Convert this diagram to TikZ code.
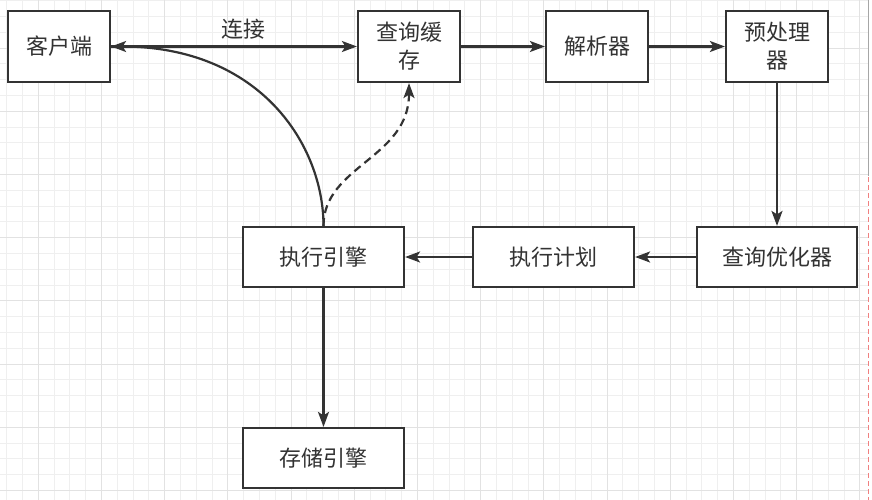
\documentclass[tikz,border=0pt]{standalone}
\usepackage{fontspec}
\newfontfamily\cjk{Noto Sans CJK SC}
\usetikzlibrary{arrows.meta}
\definecolor{ink}{HTML}{333333}
\definecolor{gridminor}{HTML}{EFEFEF}
\definecolor{gridmajor}{HTML}{E2E2E2}
\definecolor{pageedge}{HTML}{F08080}
\begin{document}
\begin{tikzpicture}[x=1pt,y=-1pt,
  box/.style={draw=ink, line width=2.2pt, fill=white, inner sep=0pt,
    font=\cjk\fontsize{22}{28}\selectfont, text=ink, align=center},
  topbox/.style={box, minimum width=102pt, minimum height=71pt},
  lowbox/.style={box, minimum width=161pt, minimum height=60pt},
  conn/.style={draw=ink, line width=2.2pt, -{Stealth[length=15pt,width=11pt,inset=3.5pt]}},
  lbl/.style={font=\cjk\fontsize{22}{28}\selectfont, text=ink, inner sep=0pt},
  minorline/.style={draw=gridminor, line width=0.9pt},
  majorline/.style={draw=gridmajor, line width=0.9pt}]
\useasboundingbox (0,0) rectangle (872,500);
\fill[white] (0,0) rectangle (872,500);
% grid
\foreach \i in {0,...,55} { \draw[minorline] ({6.7+15.8*\i},0) -- ({6.7+15.8*\i},500); }
\foreach \j in {0,...,31} { \draw[minorline] (0,{0.6+15.8*\j}) -- (868,{0.6+15.8*\j}); }
\foreach \k in {0,...,13} { \draw[majorline] ({38.3+63.2*\k},0) -- ({38.3+63.2*\k},500); }
\foreach \k in {0,...,7} { \draw[majorline] (0,{48+63.2*\k}) -- (868,{48+63.2*\k}); }
% page edge
\fill[white] (868,0) rectangle (872,500);
\draw[gray!70, line width=1.6pt] (868.5,0) -- (868.5,176);
\draw[pageedge, line width=1.6pt, dash pattern=on 5pt off 3pt] (868.5,177) -- (868.5,500);
% nodes
\node[topbox] (client) at (59,46.5) {客户端};
\node[topbox] (cache) at (409,46.5) {查询缓\\存};
\node[topbox] (parser) at (597,46.5) {解析器};
\node[topbox] (pre) at (777,46.5) {预处理\\器};
\node[box, minimum width=160pt, minimum height=60pt] (opt) at (777,257) {查询优化器};
\node[lowbox] (plan) at (553.5,257) {执行计划};
\node[lowbox] (exec) at (323.5,257) {执行引擎};
\node[lowbox] (store) at (323.5,458) {存储引擎};
% connectors
\draw[conn] (client.east) -- node[lbl, pos=0.54, yshift=17pt] (lab) {连接} (cache.west);
\draw[conn] (cache.east) -- (parser.west);
\draw[conn] (parser.east) -- (pre.west);
\draw[conn] (pre.south) -- (opt.north);
\draw[conn] (opt.west) -- (plan.east);
\draw[conn] (plan.west) -- (exec.east);
\draw[conn] (exec.south) -- (store.north);
\draw[conn] (exec.north) .. controls +(0,-80) and +(150,0) .. (client.east);
\draw[conn, dash pattern=on 8pt off 5pt] (exec.north) .. controls +(0,-60) and +(0,75) .. (cache.south);
\end{tikzpicture}
\end{document}
